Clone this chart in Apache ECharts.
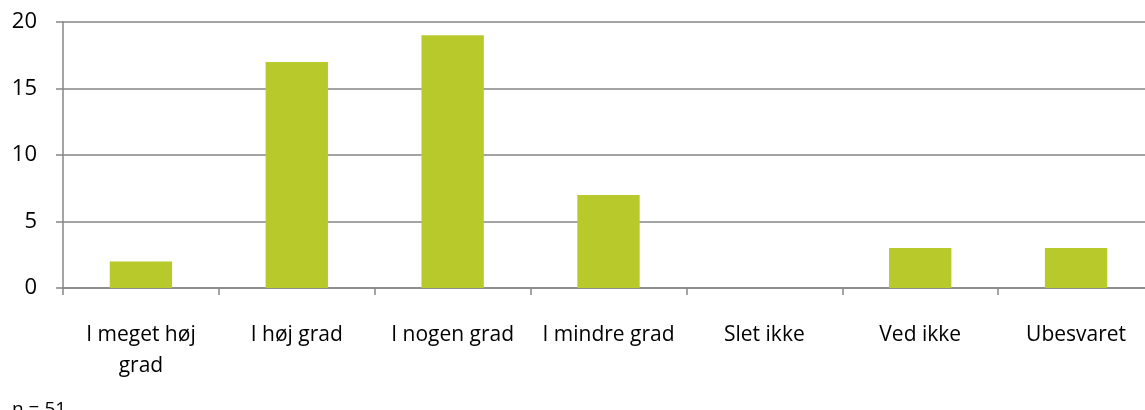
<!DOCTYPE html>
<html>
<head>
<meta charset="utf-8">
<script src="https://cdn.jsdelivr.net/npm/echarts@6/dist/echarts.min.js"></script>
<style>
  html, body { margin: 0; padding: 0; background: #fff; overflow: hidden; }
  /* a bit wider than the window: the plot runs past the right edge, as in the original */
  #chart { width: 1154px; height: 410px; }
</style>
</head>
<body>
<div id="chart"></div>
<script>
const categories = ['I meget høj\ngrad', 'I høj grad', 'I nogen grad', 'I mindre grad', 'Slet ikke', 'Ved ikke', 'Ubesvaret']
const counts = [2, 17, 19, 7, 0, 3, 3]
const noteText = 'n = 51'

const axisColor = '#868686'
const font = 'Open Sans, Liberation Sans, sans-serif'

const chart = echarts.init(document.getElementById('chart'), null, { renderer: 'canvas' })
chart.setOption({
  backgroundColor: '#fff',
  animation: false,
  grid: { left: 63, right: 0, top: 22, bottom: 122 },
  xAxis: {
    type: 'category',
    data: categories,
    axisLine: { lineStyle: { color: axisColor, width: 1.5 } },
    axisTick: { show: true, length: 7, lineStyle: { color: axisColor, width: 1.5 } },
    axisLabel: { color: '#000', fontSize: 21, fontFamily: font, margin: 32, lineHeight: 31, interval: 0 },
  },
  yAxis: {
    type: 'value',
    min: 0,
    max: 20,
    interval: 5,
    axisLine: { show: true, lineStyle: { color: axisColor, width: 1.5 } },
    axisTick: { show: true, length: 7, lineStyle: { color: axisColor, width: 1.5 } },
    splitLine: { lineStyle: { color: axisColor, width: 1.5 } },
    axisLabel: { color: '#000', fontSize: 22, fontFamily: font, margin: 26 },
  },
  graphic: [{
    type: 'text',
    left: 12,
    top: 400,
    style: { text: noteText, fill: '#000', font: '19px ' + font },
  }],
  series: [{
    type: 'bar',
    data: counts,
    barWidth: '40%',
    itemStyle: { color: '#B8C92C' },
  }],
})
</script>
</body>
</html>
